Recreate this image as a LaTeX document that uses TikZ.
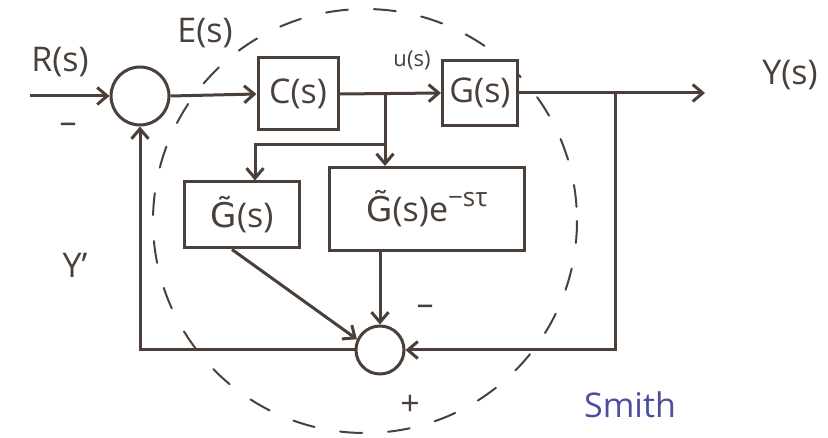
\documentclass[tikz,border=0pt]{standalone}
\usepackage{fontspec}
\setmainfont{Open Sans}
\newfontfamily\accfont{DejaVu Sans}
\usetikzlibrary{arrows.meta}
\definecolor{ink}{HTML}{4A4039}
\definecolor{blueink}{HTML}{4B4F9C}
% G with a combining tilde, set in a font that places marks
\newcommand\Gtil{{\accfont G\symbol{"0303}}}
\begin{document}
\begin{tikzpicture}[x=1pt,y=-1pt, line width=3pt, draw=ink, text=ink,
  font=\fontsize{34}{38}\selectfont,
  >={Straight Barb[length=10pt,width=17pt]},
  block/.style={draw, fill=white, inner sep=0pt},
  sumnode/.style={draw, circle, fill=white, inner sep=0pt},
  boundary/.style={line width=2pt, dash pattern=on 22pt off 26pt, line cap=round},
  lbl/.style={inner sep=0pt}]
\useasboundingbox (0,0) rectangle (828,438);

% predictor boundary
\draw[boundary] (365,221) ellipse [x radius=212, y radius=212];

% blocks
\node[sumnode, minimum size=58pt] (s1) at (140,96) {};
\node[block, minimum width=80pt, minimum height=72pt] (C) at (298,94) {C(s)};
\node[block, minimum width=75pt, minimum height=65pt] (G) at (480,93) {G(s)};
\node[block, minimum width=115pt, minimum height=66pt] (Gt) at (242,215) {\Gtil(s)};
\node[block, minimum width=195pt, minimum height=83pt] (Ge) at (427,209)
  {\Gtil(s)e\raisebox{0.45em}{\fontsize{26}{28}\selectfont −sτ}};
\node[sumnode, minimum size=48pt] (s2) at (380,350) {};

% free ends and branch points
\coordinate (rin) at (30,96);
\coordinate (yout) at (705,93);
\coordinate (tap) at (615,93);
\coordinate (br) at (385,94);
\coordinate (br2) at (385,145);

% connectors
\draw[->] (rin) -- (s1.west);
\draw[->] (s1.east) -- (C.west);
\draw[->] (C.east) -- (G.west);
\draw[->] (G.east) -- (yout);
\draw[->] (br) -- (br |- Ge.north);
\draw[->] (br2) -| ([xshift=13pt]Gt.north);
\draw[->] (s2 |- Ge.south) -- (s2.north);
\draw[->] ([xshift=-10pt]Gt.south) -- (s2.155);
\draw[->] (tap) |- (s2.east);
\draw[->] (s2.west) -| (s1.south);

% labels
\node[lbl] (lR) at (60,62) {R(s)};
\node[lbl] (lE) at (205,33) {E(s)};
\node[lbl, font=\fontsize{22}{24}\selectfont] (lu) at (412,60) {u(s)};
\node[lbl] (lY) at (790,75) {Y(s)};
\node[lbl] (lYp) at (75,265) {Y’};
\node[lbl] (m1) at (68,128) {–};
\node[lbl] (m2) at (425,310) {–};
\node[lbl] (p2) at (410,405) {+};
\node[lbl, text=blueink] (lS) at (630,405) {Smith};
\end{tikzpicture}
\end{document}
